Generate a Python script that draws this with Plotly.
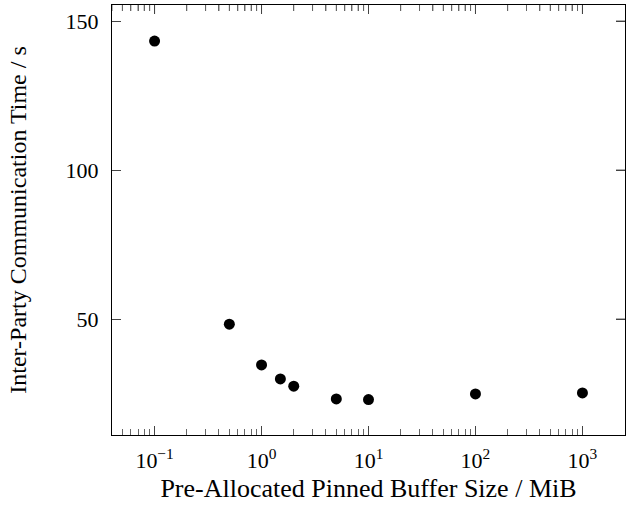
import plotly.graph_objects as go

buffer_mib = [0.1, 0.5, 1, 1.5, 2, 5, 10, 100, 1000]
comm_time_s = [143.3, 48.3, 34.6, 29.9, 27.5, 23.2, 23.0, 24.9, 25.2]

x_tickvals = [0.1, 1, 10, 100, 1000]
x_ticktext = ["10<sup>−1</sup>", "10<sup>0</sup>", "10<sup>1</sup>", "10<sup>2</sup>", "10<sup>3</sup>"]
x_minor = [0.04, 0.05, 0.06, 0.07, 0.08, 0.09] + [m * d for d in [0.1, 1, 10, 100] for m in range(2, 10)]
y_tickvals = [50, 100, 150]

font = "Liberation Serif, DejaVu Serif, serif"
x_range = [-1.398, 3.398]
y_range = [11.1, 155.4]

W, H = 626, 509
M = dict(l=112, r=1, t=5, b=74)
plot_w = W - M["l"] - M["r"]
plot_h = H - M["t"] - M["b"]
major_len, minor_len = 9, 6

fig = go.Figure()
fig.add_trace(go.Scatter(
    x=buffer_mib, y=comm_time_s, mode="markers",
    marker=dict(color="black", size=11),
))

tick_common = dict(ticks="inside", ticklen=major_len, tickcolor="#444", tickwidth=1,
                   showgrid=False, zeroline=False, automargin=False)
minor_common = dict(tickvals=x_minor, ticks="inside", ticklen=minor_len, tickcolor="#666",
                    tickwidth=1, showgrid=False)

# mirrored ticks on the top and right edges, placed through the axes
shapes = []
for v in x_tickvals:
    shapes.append(dict(type="line", xref="x", yref="paper", x0=v, x1=v,
                       y0=1, y1=1 - major_len / plot_h, line=dict(color="#444", width=1)))
for v in x_minor:
    shapes.append(dict(type="line", xref="x", yref="paper", x0=v, x1=v,
                       y0=1, y1=1 - minor_len / plot_h, line=dict(color="#666", width=1)))
for v in y_tickvals:
    shapes.append(dict(type="line", xref="paper", yref="y", y0=v, y1=v,
                       x0=1, x1=1 - major_len / plot_w, line=dict(color="#444", width=1)))

fig.update_layout(
    width=W, height=H,
    margin=M,
    paper_bgcolor="white", plot_bgcolor="white",
    showlegend=False,
    font=dict(family=font, size=22, color="black"),
    shapes=shapes,
    xaxis=dict(
        type="log", range=x_range,
        tickvals=x_tickvals, ticktext=x_ticktext,
        minor=minor_common,
        showline=True, linecolor="black", linewidth=1, mirror="ticks",
        ticklabelstandoff=6,
        title=dict(text="Pre-Allocated Pinned Buffer Size / MiB", standoff=6),
        **tick_common,
    ),
    yaxis=dict(
        range=y_range,
        tickvals=y_tickvals,
        showline=True, linecolor="black", linewidth=1, mirror="ticks",
        ticklabelstandoff=8,
        title=dict(text="Inter-Party Communication Time / s", standoff=32, font=dict(size=24)),
        **tick_common,
    ),
)

fig.write_html(
    "out.html",
    config={"displayModeBar": False},
    post_script="document.body.style.margin='0';",
)
